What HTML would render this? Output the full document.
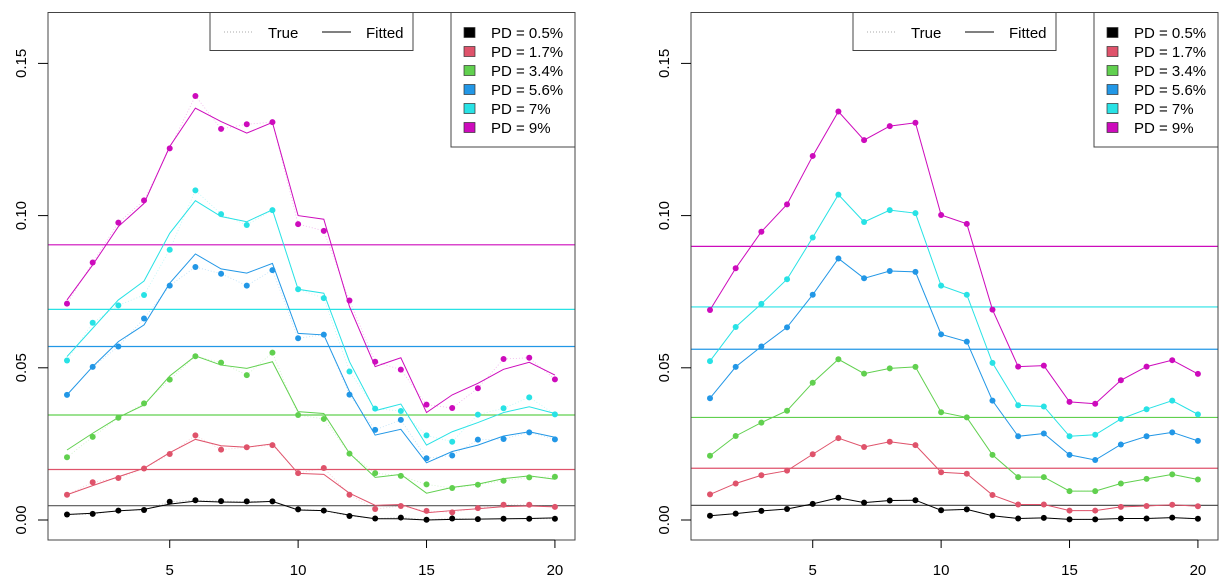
<!DOCTYPE html>
<html><head><meta charset="utf-8"><style>
body{margin:0;background:#fff;}
svg{display:block;font-family:"Liberation Sans",Arial,sans-serif;}
</style></head><body>
<svg id="chart" width="1227" height="585" viewBox="0 0 1227 585"></svg>
<script>
const xCats = [1,2,3,4,5,6,7,8,9,10,11,12,13,14,15,16,17,18,19,20];
const xTicks = [5,10,15,20];
const yTicks = [0,0.05,0.10,0.15];
const yTickLabels = ["0.00","0.05","0.10","0.15"];
const seriesNames = ["PD = 0.5%","PD = 1.7%","PD = 3.4%","PD = 5.6%","PD = 7%","PD = 9%"];
const seriesColors = ["#000000","#DF536B","#61D04F","#2297E6","#28E2E5","#CD0BBC"];
// left panel: observed (true) points
const leftTrue0 = [.0018,.002,.0031,.0033,.006,.0065,.0062,.0061,.0061,.0035,.0031,.0013,.0005,.0008,.0001,.0005,.0003,.0004,.0004,.0004];
const leftTrue1 = [.0083,.0124,.0138,.0169,.0217,.0278,.0231,.0239,.0246,.0154,.0171,.0083,.0036,.0046,.003,.0025,.0039,.005,.005,.0043];
const leftTrue2 = [.0206,.0273,.0336,.0383,.0461,.0538,.0517,.0476,.055,.0345,.0332,.0218,.0154,.0145,.0117,.0105,.0116,.0129,.014,.0142];
const leftTrue3 = [.0411,.0503,.057,.0662,.077,.0831,.0809,.077,.0821,.0597,.0609,.0412,.0296,.0329,.0203,.0212,.0264,.0266,.0288,.0265];
const leftTrue4 = [.0524,.0648,.0705,.0739,.0888,.1083,.1005,.0969,.1018,.0758,.0729,.0488,.0366,.0358,.0278,.0257,.0346,.0367,.0403,.0347];
const leftTrue5 = [.0711,.0846,.0977,.105,.1221,.1393,.1285,.130,.1307,.0972,.095,.0721,.052,.0494,.0379,.0368,.0433,.0529,.0533,.0462];
// left panel: fitted lines
const leftFit0 = [.0018,.0022,.003,.0035,.0052,.0062,.0059,.0058,.0061,.0033,.0031,.0016,.0004,.0004,.0,.0002,.0003,.0004,.0005,.0007];
const leftFit1 = [.0083,.0113,.0142,.017,.0221,.0265,.0244,.0239,.025,.0153,.015,.0088,.0048,.0051,.0024,.0031,.0037,.0044,.0046,.0043];
const leftFit2 = [.023,.0285,.0337,.0378,.0473,.0539,.0509,.0498,.052,.0356,.035,.0219,.014,.015,.0088,.0107,.0118,.0136,.0145,.0134];
const leftFit3 = [.0411,.0504,.0586,.0641,.0778,.0874,.0825,.0811,.0843,.0613,.0608,.0422,.0279,.0298,.0188,.0225,.0246,.0276,.029,.0272];
const leftFit4 = [.0537,.063,.0723,.0785,.0942,.1049,.0997,.098,.1019,.0758,.0745,.052,.0359,.0381,.0246,.029,.032,.0353,.0372,.035];
const leftFit5 = [.0723,.0838,.0964,.104,.1227,.1353,.1309,.1271,.1306,.1,.0988,.0701,.0504,.0533,.0353,.0411,.0449,.0495,.0518,.0476];
const leftHLines = [.0047,.0166,.0345,.057,.0692,.0904];
// right panel
const rightFit0 = [.0014,.0021,.003,.0036,.0053,.0073,.0057,.0064,.0065,.0032,.0035,.0014,.0005,.0007,.0002,.0002,.0005,.0005,.0008,.0004];
const rightFit1 = [.0084,.012,.0147,.0162,.0216,.0269,.024,.0257,.0246,.0157,.0152,.0082,.0051,.0051,.0031,.0031,.0043,.0046,.005,.0045];
const rightFit2 = [.0211,.0276,.032,.0359,.0451,.0528,.0481,.0498,.0503,.0354,.0337,.0214,.0141,.0141,.0095,.0095,.012,.0135,.015,.0133];
const rightFit3 = [.04,.0503,.057,.0633,.074,.0859,.0794,.0818,.0815,.061,.0586,.0392,.0275,.0284,.0214,.0197,.0248,.0275,.0288,.026];
const rightFit4 = [.0522,.0634,.071,.0791,.0928,.1069,.0979,.1018,.1008,.077,.074,.0516,.0377,.0373,.0275,.028,.0332,.0364,.0392,.0347];
const rightFit5 = [.069,.0827,.0947,.1037,.1196,.1342,.1248,.1294,.1305,.1002,.0973,.0691,.0504,.0507,.0388,.0382,.0459,.0504,.0525,.048];
const rightHLines = [.0048,.017,.0337,.0561,.07,.0899];

const svg = document.getElementById('chart');
const NS = 'http://www.w3.org/2000/svg';
function mk(tag, attrs, parent){const e=document.createElementNS(NS,tag);for(const k in attrs)e.setAttribute(k,attrs[k]);(parent||svg).appendChild(e);return e;}

function panel(off, trues, fits, hl, name){
  const L=48+off, R=575+off, T=12.5, B=540;
  const sx = v => 67+off + (v-1)*25.68;
  const sy = v => 520 - v*3044;
  const g = mk('g',{});
  
  
  hl.forEach((v,i)=>{
    const l=mk('line',{x1:L,x2:R,y1:sy(v),y2:sy(v),stroke:i===0?'#555':seriesColors[i],'stroke-width':1.2},g);
    
    
  });
  for(let s=0;s<6;s++){
    const tr=trues[s], ft=fits[s];
    const pt=tr.map((v,i)=>sx(xCats[i])+','+sy(v)).join(' ');
    const d=mk('polyline',{points:pt,fill:'none',stroke:seriesColors[s],'stroke-width':0.8,'stroke-dasharray':'1,2',opacity:0.3},g);
    
    
    const pf=ft.map((v,i)=>sx(xCats[i])+','+sy(v)).join(' ');
    const f=mk('polyline',{points:pf,fill:'none',stroke:seriesColors[s],'stroke-width':1},g);
    
    
    tr.forEach((v,i)=>{
      const c=mk('circle',{cx:sx(xCats[i]),cy:sy(v),r:3,fill:seriesColors[s]},g);
      
      
    });
  }
  const box=mk('rect',{x:L,y:T,width:R-L,height:B-T,fill:'none',stroke:'#444','stroke-width':1},g);
  
  
  mk('line',{x1:sx(xTicks[0]),x2:sx(xTicks[xTicks.length-1]),y1:B,y2:B,stroke:'#000'},g);
  xTicks.forEach(t=>{
    mk('line',{x1:sx(t),x2:sx(t),y1:B,y2:B+8,stroke:'#000'},g);
    const tx=mk('text',{x:sx(t),y:575,'text-anchor':'middle','font-size':15},g);
    tx.textContent=t;
    
    
  });
  yTicks.forEach((t,i)=>{
    mk('line',{x1:L-10,x2:L,y1:sy(t),y2:sy(t),stroke:'#000'},g);
    const tx=mk('text',{x:0,y:0,'text-anchor':'middle','font-size':15,transform:`translate(${L-22},${sy(t)}) rotate(-90)`},g);
    tx.textContent=yTickLabels[i];
    
    
  });
  const lg=mk('g',{},g);
  
  
  mk('rect',{x:210+off,y:T,width:203,height:38,fill:'#fff',stroke:'#444'},lg);
  mk('line',{x1:224+off,x2:252+off,y1:32,y2:32,stroke:'#aaa','stroke-dasharray':'1,2'},lg);
  const t1=mk('text',{x:268+off,y:38,'font-size':15},lg);t1.textContent='True';
  mk('line',{x1:322+off,x2:351+off,y1:32,y2:32,stroke:'#000'},lg);
  const t2=mk('text',{x:366+off,y:38,'font-size':15},lg);t2.textContent='Fitted';
  const pg=mk('g',{},g);
  
  
  mk('rect',{x:451+off,y:T,width:124,height:134.5,fill:'#fff',stroke:'#444'},pg);
  seriesNames.forEach((n,i)=>{
    const y=32.5+i*19;
    mk('rect',{x:464+off,y:y-5,width:11,height:10,fill:seriesColors[i],stroke:'#333','stroke-width':0.7},pg);
    const tt=mk('text',{x:491+off,y:y+5.5,'font-size':15},pg);tt.textContent=n;
    
    
  });
}
panel(0,[leftTrue0,leftTrue1,leftTrue2,leftTrue3,leftTrue4,leftTrue5],[leftFit0,leftFit1,leftFit2,leftFit3,leftFit4,leftFit5],leftHLines,'left-panel');
const rf=[rightFit0,rightFit1,rightFit2,rightFit3,rightFit4,rightFit5];
panel(643,rf,rf,rightHLines,'right-panel');
</script>
</body></html>
